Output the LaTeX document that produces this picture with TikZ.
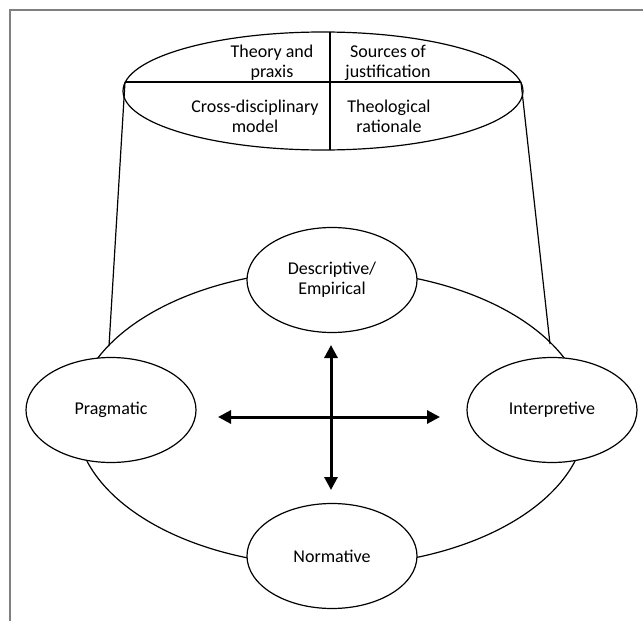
\documentclass[tikz,border=0pt]{standalone}
\usepackage{fontspec}
\setmainfont{Carlito}
\usetikzlibrary{shapes.geometric,arrows.meta}
\tikzset{
  oval/.style={ellipse,draw=black,line width=1.2pt,fill=white,inner sep=0pt,
    minimum width=170pt,minimum height=105pt,align=center,
    font=\fontsize{18}{20}\selectfont},
  qtext/.style={align=center,inner sep=0pt,font=\fontsize{18}{20}\selectfont},
  thin line/.style={draw=black,line width=1.2pt},
  bigarrow/.style={line width=3pt,{Triangle[width=13pt,length=13pt]}-{Triangle[width=13pt,length=13pt]}},
  frame/.style={draw=gray,line width=1.5pt}
}
\begin{document}
\begin{tikzpicture}[x=1pt,y=-1pt]
\useasboundingbox (0,0) rectangle (643,621);
% frame
\coordinate (fb) at (10,621);
\coordinate (fc) at (10,10);
\coordinate (fr) at (643,10);
\draw[frame] (fb) -- (fc) -- (fr);
% top ellipse
\node[ellipse,thin line,inner sep=0pt,minimum width=400pt,minimum height=118pt] (top) at (323,91) {};
\coordinate (hl) at (125,82);
\coordinate (hr) at (521,82);
\coordinate (vt) at (330,32);
\coordinate (vb) at (330,150);
\draw[thin line] (hl) -- (hr);
\draw[thin line] (vt) -- (vb);
\node[qtext] (q1) at (272,63) {Theory and\\praxis};
\node[qtext] (q2) at (388,63) {Sources of\\justification};
\node[qtext] (q3) at (255,116) {Cross-disciplinary\\model};
\node[qtext] (q4) at (389,116) {Theological\\rationale};
% big ellipse
\node[ellipse,thin line,inner sep=0pt,minimum width=510pt,minimum height=296pt] (cycle) at (331,418) {};
% side lines
\coordinate (sl) at (109,346);
\coordinate (sr) at (550,344);
\draw[thin line] (hl) -- (sl);
\draw[thin line] (hr) -- (sr);
% small ellipses
\node[oval] (desc) at (332,280) {Descriptive/\\Empirical};
\node[oval] (prag) at (111,410) {Pragmatic};
\node[oval] (interp) at (552,410) {Interpretive};
\node[oval] (norm) at (332,556) {Normative};
% arrows
\coordinate (au) at (331,345);
\coordinate (ad) at (331,490);
\coordinate (al) at (218,417);
\coordinate (ar) at (440,417);
\draw[bigarrow] (au) -- (ad);
\draw[bigarrow] (al) -- (ar);
\end{tikzpicture}
\end{document}
